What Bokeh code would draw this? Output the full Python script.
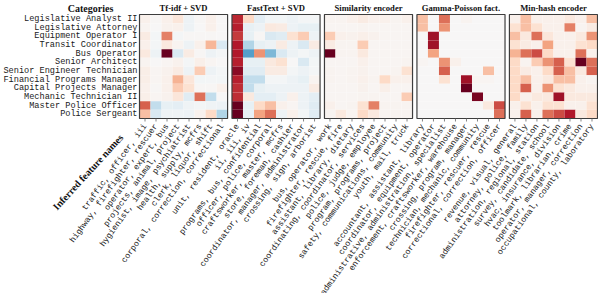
import numpy as np
from bokeh.plotting import figure
from bokeh.models import Range1d, Label, LinearColorMapper, ColumnDataSource
from bokeh.transform import transform
from bokeh.embed import file_html
from bokeh.resources import INLINE

categories = ["Legislative Analyst II", "Legislative Attorney", "Equipment Operator I",
              "Transit Coordinator", "Bus Operator", "Senior Architect",
              "Senior Engineer Technician", "Financial Programs Manager",
              "Capital Projects Manager", "Mechanic Technician II",
              "Master Police Officer", "Police Sergeant"]

panel_titles = ["Tf-idf + SVD", "FastText + SVD", "Similarity encoder",
                "Gamma-Poisson fact.", "Min-hash encoder"]

features_tfidf = ["traffic, officer, iii", "highway, firefighter, rescuer",
                  "operator, expert, bus", "projects, animal, project",
                  "hygienist, image, psychiatrist", "health, supply, mcfrs",
                  "clerk, liquor, shift", "corporal, correction, correctional"]
features_fasttext = ["unit, resident, oracle", "ii, iii, iv",
                     "programs, bus, confidential", "officer, police, corporal",
                     "craftsworker, master, mcfrs", "store, foreman, cashier",
                     "coordinator, manager, administrator", "crossing, sign, arborist"]
features_similarity = ["bus, operator, work", "firefighter, rescue, fire",
                       "assistant, library, dietary", "coordinating, coordinator, services",
                       "police, judge, employee", "program, programs, project",
                       "safety, communications, community", "youth, mail, truck"]
features_gamma = ["accountant, assistant, library", "coordinator, equipment, operator",
                  "administrative, administration, specialist",
                  "enforcement, craftsworker, warehouse", "crossing, program, manager",
                  "technician, mechanic, community", "firefighter, rescuer, rescue",
                  "correctional, correction, officer"]
features_minhash = ["revenue, visual, general", "attorney, police, family",
                    "administration, regional, station", "survey, candidate, school",
                    "hvac, insurance, division", "toolmark, librarian, crime",
                    "operator, manager, correction", "occupational, county, laboratory"]

values_tfidf = [
    [0.05, 0.01, 0.05, 0.12, -0.05, 0.01, 0.05, 0.00],
    [0.03, 0.00, 0.04, 0.05, -0.05, 0.00, 0.05, 0.00],
    [0.08, -0.02, 0.50, -0.02, 0.01, 0.01, 0.01, 0.00],
    [0.05, -0.02, 0.10, 0.03, -0.05, 0.05, 0.33, -0.15],
    [0.10, -0.05, 1.00, -0.15, 0.08, 0.01, -0.05, -0.02],
    [0.03, 0.00, 0.02, 0.04, -0.02, 0.06, 0.02, 0.00],
    [0.07, 0.02, 0.04, 0.08, -0.05, 0.25, -0.05, -0.02],
    [0.07, 0.02, 0.05, 0.35, 0.12, -0.03, -0.02, -0.03],
    [0.05, 0.01, 0.05, 0.25, 0.15, 0.01, 0.01, 0.05],
    [0.06, 0.02, 0.04, 0.12, -0.12, 0.55, -0.25, 0.00],
    [0.60, -0.25, -0.08, -0.10, -0.04, -0.03, -0.04, -0.05],
    [0.30, -0.15, -0.04, -0.04, -0.05, 0.04, 0.20, -0.30],
]
values_fasttext = [
    [0.75, 0.20, -0.10, -0.03, -0.03, -0.05, -0.02, -0.02],
    [0.78, -0.08, -0.05, 0.10, 0.08, -0.05, -0.08, -0.08],
    [0.70, -0.08, 0.01, -0.15, -0.12, 0.15, 0.25, -0.05],
    [0.80, -0.30, -0.08, -0.05, 0.08, -0.05, -0.15, 0.08],
    [0.80, -0.55, 0.45, -0.45, -0.15, -0.05, -0.02, -0.05],
    [0.78, -0.08, -0.08, 0.10, 0.15, 0.00, -0.15, -0.03],
    [0.90, -0.12, -0.12, 0.08, 0.08, -0.02, -0.05, -0.02],
    [0.78, -0.25, -0.25, -0.02, -0.02, -0.05, -0.08, 0.03],
    [0.74, -0.25, -0.08, -0.05, -0.05, -0.05, -0.05, 0.08],
    [0.74, 0.10, -0.10, -0.10, -0.05, 0.05, -0.05, -0.10],
    [1.00, -0.08, 0.20, 0.30, 0.05, 0.02, -0.05, -0.12],
    [1.00, -0.08, 0.40, 0.55, -0.05, 0.05, -0.03, -0.12],
]
values_similarity = [
    [0.03, 0.03, 0.05, 0.08, 0.05, 0.05, 0.03, 0.05],
    [0.02, 0.02, 0.02, 0.03, 0.02, 0.02, 0.02, 0.02],
    [0.25, 0.05, 0.04, 0.06, 0.04, 0.02, 0.02, 0.02],
    [0.08, 0.03, 0.03, 0.25, 0.02, 0.02, 0.02, 0.02],
    [1.00, 0.03, 0.03, 0.10, 0.02, 0.02, 0.02, 0.02],
    [0.02, 0.02, 0.02, 0.05, 0.02, 0.02, 0.02, 0.03],
    [0.03, 0.02, 0.03, 0.04, 0.02, 0.02, 0.03, 0.15],
    [0.03, 0.02, 0.03, 0.05, 0.03, 0.20, 0.05, 0.05],
    [0.02, 0.02, 0.02, 0.04, 0.02, 0.06, 0.02, 0.02],
    [0.02, 0.02, 0.02, 0.03, 0.03, 0.02, 0.02, 0.25],
    [0.05, 0.02, 0.03, 0.15, 0.50, 0.03, 0.03, 0.03],
    [0.03, 0.10, 0.03, 0.20, 0.10, 0.03, 0.03, 0.03],
]
values_gamma = [
    [0.30, 0.00, 0.55, 0.00, 0.03, 0.00, 0.00, 0.00],
    [0.30, 0.00, 0.45, 0.00, 0.00, 0.00, 0.00, 0.00],
    [0.00, 0.85, 0.00, 0.00, 0.00, 0.00, 0.00, 0.00],
    [0.00, 0.85, 0.00, 0.00, 0.00, 0.00, 0.00, 0.00],
    [0.00, 0.40, 0.00, 0.00, 0.00, 0.00, 0.00, 0.00],
    [0.02, 0.00, 0.45, 0.05, 0.00, 0.00, 0.00, 0.00],
    [0.00, 0.00, 0.60, 0.00, 0.00, 0.00, 0.30, 0.00],
    [0.00, 0.00, 0.15, 0.00, 0.85, 0.02, 0.02, 0.00],
    [0.00, 0.00, 0.00, 0.00, 1.00, 0.00, 0.00, 0.00],
    [0.00, 0.00, 0.00, 0.00, 0.00, 0.95, 0.00, 0.00],
    [0.00, 0.00, 0.00, 0.00, 0.00, 0.00, 0.10, 0.65],
    [0.00, 0.00, 0.00, 0.00, 0.00, 0.00, 0.00, 0.55],
]
values_minhash = [
    [0.05, 0.30, 0.05, 0.05, 0.05, 0.10, 0.05, 0.30],
    [0.15, 0.30, 0.15, 0.05, 0.05, 0.50, 0.03, 0.08],
    [0.30, 0.10, 0.55, 0.12, 0.05, 0.05, 0.10, 0.45],
    [0.15, 0.08, 0.05, 0.40, 0.05, 0.05, 0.15, 0.20],
    [0.35, 0.55, 0.65, 0.20, 0.05, 0.05, 0.55, 0.05],
    [0.20, 0.03, 0.25, 0.45, 0.60, 0.15, 1.00, 0.55],
    [0.20, 0.08, 0.05, 0.20, 0.60, 0.30, 0.10, 0.60],
    [0.20, 0.30, 0.05, 0.10, 0.30, 0.30, 0.05, 0.03],
    [0.20, 0.60, 0.05, 0.45, 0.15, 0.10, 0.05, 0.05],
    [0.20, 0.05, 0.10, 0.10, 0.85, 0.10, 0.10, 0.10],
    [0.05, 0.15, 0.05, 0.15, 0.15, 0.05, 0.05, 0.15],
    [0.05, 0.60, 0.05, 0.55, 0.65, 0.80, 0.10, 0.20],
]

panel_features = [features_tfidf, features_fasttext, features_similarity,
                  features_gamma, features_minhash]
panel_values = [values_tfidf, values_fasttext, values_similarity,
                values_gamma, values_minhash]

# RdBu_r colormap built from the ColorBrewer anchors
anchors = ['#053061', '#2166ac', '#4393c3', '#92c5de', '#d1e5f0', '#f7f7f7',
           '#fddbc7', '#f4a582', '#d6604d', '#b2182b', '#67001f']
rgb = np.array([[int(a[i:i + 2], 16) for i in (1, 3, 5)] for a in anchors], float)
pos = np.linspace(0, 1, len(anchors))
t = np.linspace(0, 1, 256)
palette = ["#%02x%02x%02x" % tuple(int(round(np.interp(tt, pos, rgb[:, c]))) for c in range(3))
           for tt in t]
mapper = LinearColorMapper(palette=palette, low=-1, high=1)

npan = len(panel_titles)
ncol = len(features_tfidf)
nrow = len(categories)
gap = 0.4
step = ncol + gap

# layout in pixels
W, H = 598, 293
FL, FR, FT, FB = 139, 597, 14, 118
xspan = npan * step - gap
ux = (FR - FL) / xspan
uy = (FB - FT) / nrow

# cells
xs, ys, vs = [], [], []
tick_x, tick_lab = [], []
for k, (feats, vals) in enumerate(zip(panel_features, panel_values)):
    for j, name in enumerate(feats):
        tick_x.append(k * step + j + 0.5)
        tick_lab.append(name)
    for i, cat in enumerate(categories):
        for j in range(ncol):
            xs.append(k * step + j + 0.5)
            ys.append(nrow - i - 0.5)
            vs.append(vals[i][j])
cells = ColumnDataSource(dict(x=xs, y=ys, v=vs))

p = figure(width=W, height=H, output_backend="svg", toolbar_location=None,
           x_range=Range1d(-FL / ux, xspan + (W - FR) / ux),
           y_range=Range1d(-(H - FB) / uy, nrow + FT / uy),
           x_axis_location=None, y_axis_location=None, min_border=0)
p.outline_line_color = None
p.grid.visible = False
p.background_fill_color = "white"
p.border_fill_color = "white"

p.rect(x="x", y="y", width=1, height=1, source=cells,
       fill_color=transform("v", mapper), line_color=None)

# panel frames
lefts = [k * step for k in range(npan)]
p.quad(left=lefts, right=[l + ncol for l in lefts], bottom=0, top=nrow,
       fill_color=None, line_color="#3d3d3d", line_width=1.2)

# ticks under each column
p.segment(x0=tick_x, y0=[0] * len(tick_x), x1=tick_x, y1=[-3 / uy] * len(tick_x),
          line_color="#666666", line_width=0.8)

mono = "Liberation Mono"
serif = "Liberation Serif"
screen_angle = np.deg2rad(47.5)
# glyph angles follow the data aspect, so convert the wanted screen angle
glyph_angle = float(np.arctan(np.tan(screen_angle) * ux / uy))

# category labels (y axis)
p.text(x=[0] * nrow, y=[nrow - i - 0.5 for i in range(nrow)], text=categories,
       x_offset=-2, text_align="right", text_baseline="middle",
       text_font={"value": mono}, text_font_size="8.6px", text_color="#1a1a1a")

# feature labels (x axis)
p.text(x=tick_x, y=[0] * len(tick_x), text=tick_lab, angle=glyph_angle,
       x_offset=0, y_offset=6, text_align="right", text_baseline="middle",
       text_font={"value": mono}, text_font_size="8.3px", text_color="#1a1a1a")

# panel titles
p.text(x=[l + ncol / 2 for l in lefts], y=[nrow] * npan, text=panel_titles,
       y_offset=-6.5, text_align="center", text_baseline="middle",
       text_font={"value": serif}, text_font_style="bold",
       text_font_size="8.6px", text_color="#111111")

p.add_layout(Label(x=90, y=H - 7.5, x_units="screen", y_units="screen",
                   text="Categories", text_align="center", text_baseline="middle",
                   text_font=serif, text_font_style="bold",
                   text_font_size="10px", text_color="#111111"))
p.add_layout(Label(x=87.5, y=H - 171.5, x_units="screen", y_units="screen",
                   text="Inferred feature names", text_align="center",
                   text_baseline="middle", angle=screen_angle,
                   text_font=serif, text_font_style="bold",
                   text_font_size="10px", text_color="#111111"))

open("out.html", "w").write(file_html(p, INLINE))
